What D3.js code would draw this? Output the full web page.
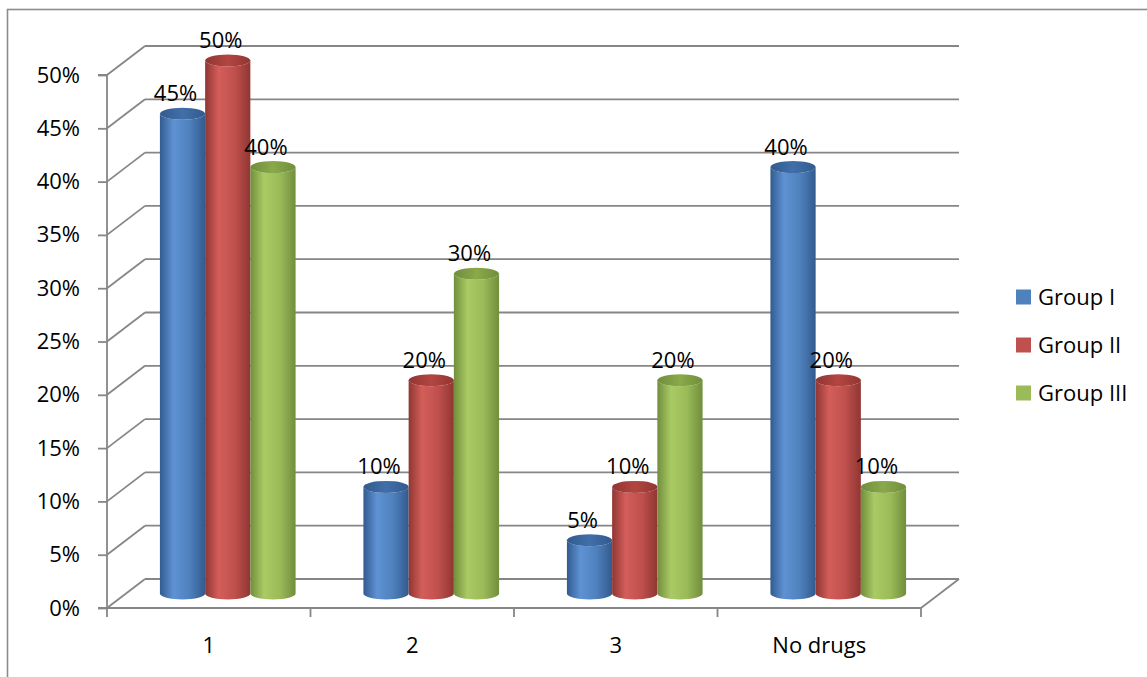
<!DOCTYPE html>
<html>
<head>
<meta charset="utf-8">
<script src="https://cdn.jsdelivr.net/npm/d3@7/dist/d3.min.js"></script>
<style>
  html, body { margin: 0; padding: 0; background: #fff; }
  svg { display: block; }
  text { font-family: "Open Sans", "Noto Sans", sans-serif; fill: #000; }
</style>
</head>
<body>
<svg id="chart" width="1147" height="677"></svg>
<script>
// Share of patients per number of drugs, by group
const categories = ["1", "2", "3", "No drugs"];
const seriesNames = ["Group I", "Group II", "Group III"];
const groupI   = [0.45, 0.10, 0.05, 0.40];
const groupII  = [0.50, 0.20, 0.10, 0.20];
const groupIII = [0.40, 0.30, 0.20, 0.10];
const seriesValues = [groupI, groupII, groupIII];
const yTicks = [0, 0.05, 0.10, 0.15, 0.20, 0.25, 0.30, 0.35, 0.40, 0.45, 0.50];

const palette = {
  "Group I":   { base: "#4F81BD", dark: "#325b8f", light: "#5e92d3", top: "#416fa9" },
  "Group II":  { base: "#C0504D", dark: "#903633", light: "#d35e5a", top: "#b44541" },
  "Group III": { base: "#9BBB59", dark: "#718e3c", light: "#a9ca64", top: "#89a94a" }
};

const svg = d3.select("#chart");
const defs = svg.append("defs");
const fontSize = 22;

// 3D box geometry: front plane and depth offset to the back wall
const depth = { dx: 38, dy: -29 };
const y = d3.scaleLinear().domain([0, 0.5]).range([608, 75]);
const x = d3.scaleBand().domain(categories).range([107, 921]).padding(0);
const xs = d3.scaleBand().domain(seriesNames).range([0, x.bandwidth()])
  .paddingInner(0).paddingOuter(0.75);

const grid = "#868686";
const gw = 1.8;

// outer chart border
svg.append("rect").attr("x", 7.5).attr("y", 9.5).attr("width", 1160).attr("height", 700)
  .attr("fill", "none").attr("stroke", "#8c8c8c").attr("stroke-width", 1.6);

const x0 = x.range()[0], x1 = x.range()[1];

// back-wall gridlines and side-wall diagonals
const g = svg.append("g");
yTicks.forEach(t => {
  const yb = y(t) + depth.dy;
  g.append("line").attr("x1", x0 + depth.dx).attr("x2", x1 + depth.dx)
    .attr("y1", yb).attr("y2", yb).attr("stroke", grid).attr("stroke-width", gw);
  g.append("line").attr("x1", x0).attr("y1", y(t))
    .attr("x2", x0 + depth.dx).attr("y2", yb).attr("stroke", grid).attr("stroke-width", gw);
});
// floor right edge
g.append("line").attr("x1", x1).attr("y1", y(0)).attr("x2", x1 + depth.dx).attr("y2", y(0) + depth.dy)
  .attr("stroke", grid).attr("stroke-width", gw);

// y axis on the front plane
const yAxis = d3.axisLeft(y).tickValues(yTicks).tickFormat(d3.format(".0%")).tickSize(9).tickPadding(18);
const ya = svg.append("g").attr("transform", `translate(${x0},0)`).call(yAxis);
ya.select(".domain").attr("stroke", grid).attr("stroke-width", gw).attr("d", `M-9,${y(0.5)}H0V${y(0)}H-9`);
ya.selectAll(".tick line").attr("stroke", grid).attr("stroke-width", gw);
ya.selectAll(".tick text").attr("font-size", fontSize).attr("font-family", "\"Open Sans\", sans-serif").attr("fill", "#000");

// x axis on the front plane
const xAxis = d3.axisBottom(x).tickSize(0).tickPadding(29);
const xa = svg.append("g").attr("transform", `translate(0,${y(0)})`).call(xAxis);
xa.select(".domain").attr("stroke", grid).attr("stroke-width", gw).attr("d", `M${x0},0H${x1}`);
xa.selectAll(".tick text").attr("font-size", fontSize).attr("font-family", "\"Open Sans\", sans-serif").attr("fill", "#000");
const bounds = categories.map(c => x(c)).concat([x1]);
xa.selectAll(".bound").data(bounds).enter().append("line")
  .attr("x1", d => d).attr("x2", d => d).attr("y1", 0).attr("y2", 9)
  .attr("stroke", grid).attr("stroke-width", gw);

// gradients for cylinder bodies and tops
seriesNames.forEach((s, i) => {
  const p = palette[s];
  const lg = defs.append("linearGradient").attr("id", "body" + i).attr("x1", "0").attr("x2", "1").attr("y1", "0").attr("y2", "0");
  lg.append("stop").attr("offset", "0%").attr("stop-color", p.dark);
  lg.append("stop").attr("offset", "30%").attr("stop-color", p.light);
  lg.append("stop").attr("offset", "65%").attr("stop-color", p.base);
  lg.append("stop").attr("offset", "100%").attr("stop-color", p.dark);
  const tg = defs.append("linearGradient").attr("id", "top" + i).attr("x1", "0").attr("x2", "1").attr("y1", "0").attr("y2", "0");
  tg.append("stop").attr("offset", "0%").attr("stop-color", p.dark);
  tg.append("stop").attr("offset", "50%").attr("stop-color", p.top);
  tg.append("stop").attr("offset", "100%").attr("stop-color", p.dark);
});

// cylinders stand half-way into the depth of the box
const mid = { dx: depth.dx / 2, dy: depth.dy / 2 };
const rx = xs.bandwidth() / 2, ry = 6;
const bars = svg.append("g");
const labels = svg.append("g");

categories.forEach((c, ci) => {
  seriesNames.forEach((s, si) => {
    const v = seriesValues[si][ci];
    const cx = x(c) + xs(s) + rx + mid.dx;
    const yTop = y(v) + mid.dy;
    const yBot = y(0) + mid.dy;
    bars.append("path")
      .attr("d", `M${cx - rx},${yTop} L${cx - rx},${yBot} A${rx},${ry} 0 0 0 ${cx + rx},${yBot} L${cx + rx},${yTop} A${rx},${ry} 0 0 1 ${cx - rx},${yTop} Z`)
      .attr("fill", `url(#body${si})`);
    bars.append("ellipse").attr("cx", cx).attr("cy", yTop).attr("rx", rx).attr("ry", ry)
      .attr("fill", `url(#top${si})`);
    labels.append("text")
      .attr("x", cx - 7).attr("y", y(v) + depth.dy + 2)
      .attr("text-anchor", "middle").attr("font-size", fontSize)
      .text(d3.format(".0%")(v));
  });
});

// legend
const lg = svg.append("g").attr("transform", "translate(1016,0)");
seriesNames.forEach((s, i) => {
  const cy = 297 + i * 48;
  lg.append("rect").attr("x", 0).attr("y", cy - 7.5).attr("width", 15).attr("height", 15).attr("fill", palette[s].base);
  lg.append("text").attr("x", 22).attr("y", cy + 8).attr("font-size", fontSize).text(s);
});
</script>
</body>
</html>
